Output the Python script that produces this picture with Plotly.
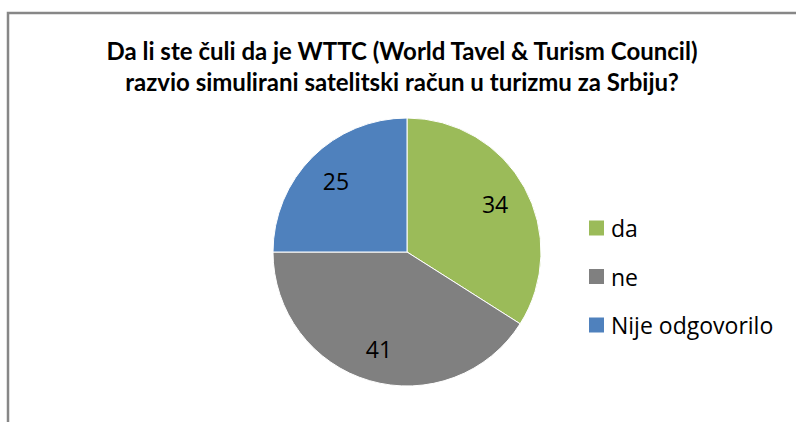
import plotly.graph_objects as go

categories = ["da", "ne", "Nije odgovorilo"]
values = [34, 41, 25]
colors = ["#9BBB59", "#808080", "#4F81BD"]
title_lines = ["Da li ste čuli da je WTTC (World Tavel & Turism Council)",
               "razvio simulirani satelitski račun u turizmu za Srbiju?"]

W, H = 796, 422
TFONT = "Lato"
FONT = "Open Sans"
pie_domain = dict(x=[273 / W, 541 / W], y=[1 - 386 / H, 1 - 118 / H])

# filled pie (slices)
fig = go.Figure(go.Pie(
    labels=categories,
    values=values,
    sort=False,
    direction="clockwise",
    rotation=0,
    marker=dict(colors=colors, line=dict(color="#FFFFFF", width=1)),
    textinfo="none",
    domain=pie_domain,
    hoverinfo="label+value",
    showlegend=False,
))
# same data as a ring on top, only used to place the value labels at ~3/4 radius
fig.add_trace(go.Pie(
    labels=categories,
    values=values,
    sort=False,
    direction="clockwise",
    rotation=0,
    hole=0.5,
    marker=dict(colors=["rgba(0,0,0,0)"] * len(values), line=dict(width=0)),
    textinfo="value",
    textposition="inside",
    insidetextorientation="horizontal",
    textfont=dict(family=FONT, size=23, color="#000000"),
    domain=pie_domain,
    hoverinfo="skip",
    showlegend=False,
))

# legend drawn as squares + text (spacing like the original)
shapes = [dict(
    type="rect", xref="paper", yref="paper",
    x0=8 / W, x1=1.05, y0=-0.05, y1=1 - 13 / H,
    line=dict(color="#878787", width=2.5),
    fillcolor="rgba(0,0,0,0)", layer="below",
)]
annotations = []
for i, (cat, col) in enumerate(zip(categories, colors)):
    yc = 228 + 48.5 * i
    shapes.append(dict(
        type="rect", xref="paper", yref="paper",
        x0=589 / W, x1=604 / W, y0=1 - (yc + 7.5) / H, y1=1 - (yc - 7.5) / H,
        line=dict(width=0), fillcolor=col,
    ))
    annotations.append(dict(
        text=cat, xref="paper", yref="paper", x=609 / W, y=1 - yc / H,
        xanchor="left", yanchor="middle", showarrow=False,
        font=dict(family=FONT, size=23, color="#000000"),
    ))

fig.update_layout(
    width=W, height=H,
    margin=dict(l=0, r=0, t=0, b=0),
    paper_bgcolor="#FFFFFF",
    plot_bgcolor="#FFFFFF",
    title=dict(
        text="<b>" + "<br>".join(title_lines) + "</b>",
        x=402 / W, xanchor="center",
        y=1 - 60 / H, yanchor="top",
        font=dict(family=TFONT, size=24, color="#000000"),
    ),
    showlegend=False,
    shapes=shapes,
    annotations=annotations,
)

fig.write_html("out.html", config={"displayModeBar": False},
               post_script="document.body.style.margin='0';")
